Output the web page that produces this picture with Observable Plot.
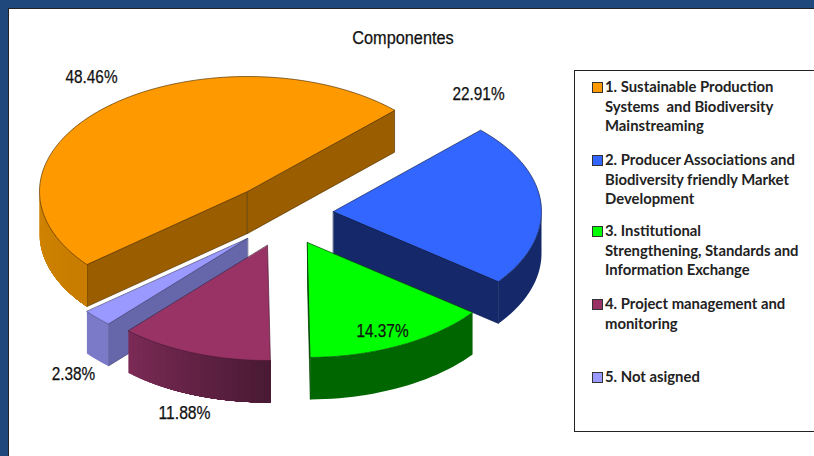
<!DOCTYPE html>
<html><head><meta charset="utf-8">
<script src="https://cdn.jsdelivr.net/npm/d3@7"></script>
<script src="https://cdn.jsdelivr.net/npm/@observablehq/plot@0.6"></script>
<style>
html,body{margin:0;padding:0;width:814px;height:456px;overflow:hidden;background:#1F497D}
#sheet{position:absolute;left:8px;top:8px;width:806px;height:448px;background:#fff;border-left:1.5px solid #222;border-top:1.5px solid #222;box-sizing:border-box}
#chart{position:absolute;left:0;top:0}
#title{position:absolute;left:303px;width:200px;top:27px;text-align:center;font:18px/22px "Liberation Sans",sans-serif;color:#111;transform:scaleX(.905);-webkit-text-stroke:.25px #111}
#legend{position:absolute;left:574px;top:70px;width:250px;height:362px;box-sizing:border-box;border:1.5px solid #222;background:#fff;font:700 14.85px/19.5px Lato,"Open Sans",sans-serif;color:#222}
.item{position:absolute;left:30px;white-space:pre}
.sw{position:absolute;left:-13px;top:5px;width:9px;height:9px;border:1px solid #333}
</style></head><body>
<div id="sheet"></div>
<div id="chart"></div>
<div id="title"></div>
<div id="legend"></div>
<script>
// ---- data ----
const titleText = "Componentes";
const categories = [
  "1. Sustainable Production\nSystems  and Biodiversity\nMainstreaming",
  "2. Producer Associations and\nBiodiversity friendly Market\nDevelopment",
  "3. Institutional\nStrengthening, Standards and\nInformation Exchange",
  "4. Project management and\nmonitoring",
  "5. Not asigned"
];
const values = [48.46, 22.91, 14.37, 11.88, 2.38];

// ---- styling and layout ----
const topColors = ["#FF9900", "#3366FF", "#00FF00", "#993366", "#9999FF"];
const cutColors = ["#9A5E00", "#14286A", "#006600", "#5A1F40", "#6666AA"];
const rimFrom   = ["#C87C00", "#14286A", "#006600", "#4A1A34", "#7A7AC8"];
const rimTo     = ["#D08400", "#14286A", "#006600", "#7A2A55", "#7A7AC8"];
const edgeColors= ["#5a3600", "#0f1f55", "#004400", "#4a1a34", "#44447a"];
// pixel scale of the pie: unit circle maps to this box
const cx = 247, cy = 191, rx = 208, ry = 115, depth = 42 / ry;
// how far each slice is pulled out of the pie (unit-circle units)
const explodeX = [0, 86, 60, 20, 0].map(d => d / rx);
const explodeY = [0, 20, 51, 54, 47].map(d => d / ry);
const startAngle = -45 - values[0] * 3.6;      // orange ends at -45deg
const drawOrder = [4, 0, 3, 1, 2];
// labels: unit-circle offsets per slice
const labelX = [91, 478, 382, 184, 73].map(d => (d - cx) / rx);
const labelY = [77, 94, 331, 413, 374].map(d => (d - cy) / ry);

// ---- geometry derived from the values ----
const rad = d => d * Math.PI / 180;
let acc = startAngle;
const slices = values.map((v, i) => {
  const a0 = acc; acc += v * 3.6;
  return {i, a0, a1: acc, ox: explodeX[i], oy: explodeY[i]};
});
const faces = [];
let fid = 0;
function addFace(points, fill, stroke) {
  const z = fid++;
  points.forEach(p => faces.push({x: p[0], y: p[1], z, fill, stroke}));
}
function rimPoint(s, a, dz = 0) {
  return [s.ox + Math.cos(rad(a)), s.oy + Math.sin(rad(a)) + dz];
}
function arc(s, from, to, dz = 0) {
  const m = Math.max(1, Math.ceil(Math.abs(to - from) / 2));
  return d3.range(m + 1).map(j => rimPoint(s, from + (to - from) * j / m, dz));
}
// a radial cut shows only when the slice's body lies above it on screen
function showsCut(s, a) {
  const px = Math.cos(rad(a)), py = Math.sin(rad(a));
  const m = rad((s.a0 + s.a1) / 2), mx = Math.cos(m), my = Math.sin(m);
  const cross = px * my - py * mx;
  return px > 0 ? cross < 0 : cross > 0;
}
for (const k of drawOrder) {
  const s = slices[k];
  const apex = [s.ox, s.oy], apexLow = [s.ox, s.oy + depth];
  for (const a of [s.a0, s.a1]) {
    if (showsCut(s, a)) addFace([apex, rimPoint(s, a), rimPoint(s, a, depth), apexLow], cutColors[k], edgeColors[k]);
  }
  // outer rim, front half only: each band runs to the end of the visible arc
  // and is overpainted by the next, so the shading has no seams
  const wraps = s.a0 < -180;                       // the first slice starts past the back of the pie
  const visStart = wraps ? s.a0 + 360 : Math.max(s.a0, 0);
  const visEnd = wraps ? 180 : s.a1;
  const n = rimFrom[k] === rimTo[k] ? 1 : 24;
  const mix = d3.interpolateRgb(rimFrom[k], rimTo[k]);
  const step = (visEnd - visStart) / n;
  for (let j = n - 1; j >= 0; j--) {
    const end = visStart + step * (j + 1);
    const col = d3.color(mix(n > 1 ? j / (n - 1) : 0)).formatHex();
    addFace([...arc(s, visStart, end), ...arc(s, end, visStart, depth)], col, "none");
  }
  // top face
  addFace([apex, ...arc(s, s.a0, s.a1)], topColors[k], edgeColors[k]);
}
const labels = values.map((v, i) => ({x: labelX[i], y: labelY[i], text: v.toFixed(2) + "%"}));

const chart = Plot.plot({
  width: 814, height: 456, margin: 0,
  style: {background: "transparent", overflow: "visible"},
  x: {axis: null, domain: [-1, 1], range: [cx - rx, cx + rx]},
  y: {axis: null, domain: [-1, 1], range: [cy - ry, cy + ry]},
  color: {type: "identity"},
  marks: [
    Plot.line(faces, {x: "x", y: "y", z: "z", fill: "fill", stroke: "stroke", strokeWidth: 0.7, curve: "linear-closed"}),
    Plot.text(labels, {x: "x", y: "y", text: "text", fontSize: 17.5, fontFamily: '"Liberation Sans",sans-serif', fill: "#111", stroke: "#111", strokeWidth: 0.25})
  ]
});
// the reference's labels use a condensed face: narrow the installed one to the same width
d3.select(chart).selectAll("text").filter(function () { return /%$/.test(this.textContent); })
  .attr("textLength", function () {
    const digits = this.textContent.replace(/\D/g, "").length;
    return (digits * 0.556 + 0.278 + 0.889) * 15.35;
  })
  .attr("lengthAdjust", "spacingAndGlyphs");
document.getElementById("chart").appendChild(chart);
document.getElementById("title").textContent = titleText;

// legend
const itemTops = [6, 79, 150, 223, 296];
const legend = document.getElementById("legend");
categories.forEach((c, i) => {
  const el = document.createElement("div");
  el.className = "item";
  el.style.top = itemTops[i] + "px";
  el.textContent = c;
  const sw = document.createElement("span");
  sw.className = "sw";
  sw.style.background = topColors[i];
  el.appendChild(sw);
  legend.appendChild(el);
});
</script>
</body></html>
